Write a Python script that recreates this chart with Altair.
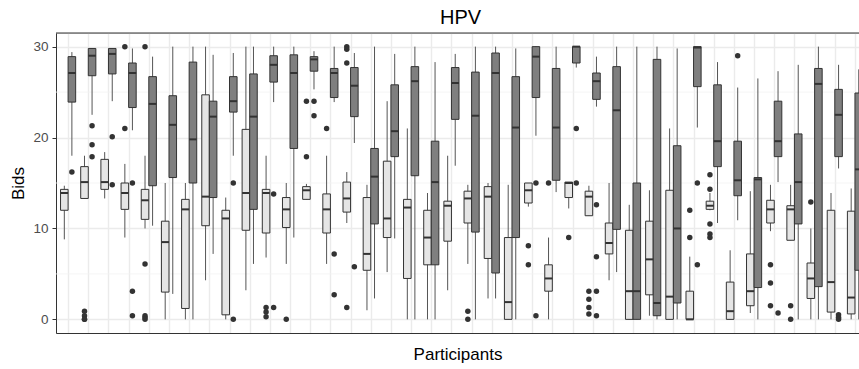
import altair as alt
import pandas as pd

# Participants on the x axis; two bid rounds per participant, drawn side by side
participants = list(range(1, 41))
groups = ["Round 1", "Round 2"]

# Round 1 (light boxes): whisker ends, quartiles and medians
r1_lower = [8.8, 13.3, 13.3, 9.0, 10.0, 0, 0, 4.3, 0, 3.2,
            6.8, 6.1, 13.2, 6.1, 10.6, 1.0, 5.2, 0, 0, 3.2,
            6.1, 2.3, 0, 12.4, 0, 12.2, 11.4, 4.3, 0, 0.4,
            0, 0, 12.0, 0, 0.7, 9.7, 8.7, 0, 0, 0]
r1_q1 = [12.0, 13.3, 14.3, 12.1, 11.0, 3.0, 1.2, 10.3, 0.5, 9.8,
         9.5, 10.1, 13.2, 9.5, 11.8, 5.4, 9.0, 4.5, 6.0, 8.6,
         10.6, 6.7, 0, 12.8, 3.1, 13.4, 11.4, 7.2, 0, 2.7,
         0, 0, 12.1, 0, 1.5, 10.6, 8.7, 2.3, 0.8, 0.6]
r1_median = [13.9, 15.1, 15.1, 13.9, 13.1, 8.5, 12.1, 13.5, 11.1, 13.9,
             13.9, 12.1, 14.2, 12.1, 13.3, 7.2, 11.1, 12.3, 9.0, 12.5,
             13.3, 13.5, 1.9, 14.2, 4.5, 15.0, 13.5, 8.4, 3.1, 6.6,
             2.5, 0, 12.5, 0.9, 3.1, 12.1, 12.1, 4.5, 4.1, 2.4]
r1_q3 = [14.3, 16.8, 17.6, 15.0, 14.3, 10.8, 13.2, 24.7, 12.0, 20.9,
         14.3, 13.4, 14.6, 13.8, 15.1, 13.4, 17.4, 13.2, 12.0, 13.0,
         14.1, 14.6, 9.0, 15.0, 6.0, 15.1, 14.1, 10.6, 9.8, 10.8,
         14.2, 3.1, 13.0, 4.1, 7.2, 13.1, 12.5, 6.2, 12.0, 11.9]
r1_upper = [14.7, 18.0, 18.4, 17.1, 18.0, 15.0, 15.0, 30.0, 13.4, 30.0,
            18.0, 15.0, 14.9, 18.0, 16.2, 14.8, 24.0, 21.0, 13.9, 18.0,
            14.8, 15.0, 14.8, 15.0, 9.0, 15.1, 14.7, 15.0, 12.6, 14.2,
            21.0, 6.9, 13.9, 7.6, 14.1, 14.8, 14.8, 10.0, 13.9, 14.4]
r1_outliers = [[], [0.9, 0.4, 0, 0], [], [30.0, 21.0], [30.0, 6.1, 0.4, 0.2, 0],
               [], [], [], [], [],
               [1.3, 0.8, 0.3], [0], [24.0, 17.9], [21.0], [30.0, 29.7, 28.2, 1.3],
               [], [], [], [], [],
               [0.9, 0], [], [], [8.1, 6.0], [15.0],
               [9.0], [3.1, 2.2, 1.3, 0.6], [], [], [],
               [], [12.0, 9.0], [15.9, 14.3, 10.5, 9.4, 9.0], [], [],
               [6.0, 4.0, 1.5], [1.5, 0], [12.9], [], []]

# Round 2 (dark boxes)
r2_lower = [18.0, 22.5, 24.0, 20.8, 10.3, 2.8, 0, 7.2, 18.0, 6.1,
            23.9, 9.0, 25.3, 23.9, 19.4, 2.3, 8.9, 0, 0, 16.9,
            0, 2.3, 0, 20.2, 14.0, 27.7, 23.4, 5.2, 0, 0,
            0, 21.1, 10.6, 10.9, 0, 15.1, 0, 0, 16.6, 0]
r2_q1 = [23.9, 26.8, 27.0, 23.3, 14.7, 15.6, 15.0, 13.4, 22.8, 12.1,
         26.1, 18.8, 27.3, 24.4, 22.3, 10.5, 17.9, 15.8, 6.0, 22.0,
         9.6, 5.1, 9.0, 24.4, 15.3, 28.2, 24.2, 9.9, 0, 0.4,
         1.8, 25.6, 16.8, 13.6, 3.5, 17.9, 10.5, 3.6, 17.9, 5.4]
r2_median = [27.1, 29.0, 29.2, 27.1, 23.7, 21.4, 19.8, 22.3, 24.0, 22.3,
             28.0, 27.1, 28.6, 27.1, 25.7, 15.7, 20.7, 26.2, 15.1, 26.0,
             22.4, 27.1, 21.1, 28.9, 21.1, 30.0, 26.2, 23.0, 3.1, 1.8,
             10.0, 29.9, 19.6, 15.3, 15.4, 19.6, 15.1, 25.9, 22.5, 16.5]
r2_q3 = [28.9, 29.8, 29.8, 28.2, 26.7, 24.6, 28.3, 24.0, 26.7, 27.0,
         29.0, 29.1, 28.9, 27.6, 27.7, 18.8, 25.8, 27.8, 19.6, 27.7,
         27.2, 29.3, 26.7, 30.0, 27.6, 30.0, 27.1, 27.8, 15.0, 28.6,
         19.1, 30.0, 25.8, 19.6, 15.6, 24.0, 20.4, 27.6, 25.3, 24.9]
r2_upper = [29.4, 29.8, 29.8, 29.8, 28.9, 30.0, 30.0, 29.1, 29.3, 30.0,
            30.0, 30.0, 29.5, 30.0, 29.3, 30.0, 29.2, 30.0, 28.3, 29.2,
            30.0, 30.0, 29.8, 30.0, 30.0, 30.0, 28.9, 30.0, 30.0, 30.0,
            29.8, 30.0, 28.3, 25.5, 26.5, 27.3, 28.0, 30.0, 28.0, 27.5]
r2_outliers = [[16.2], [21.3, 19.2, 17.9], [20.1, 14.8], [15.0, 3.1, 0.4], [],
               [], [], [], [15.0, 0], [],
               [13.8, 1.3], [], [24.0, 22.4], [7.2, 2.7], [5.8],
               [], [], [], [], [],
               [], [], [], [15.0, 0.4], [],
               [21.0, 15.0], [12.6, 6.9, 3.1, 0.4], [], [], [],
               [], [15.0, 6.0], [], [29.0], [],
               [0.7], [], [], [0.5, 0.2, 0], []]

# Minor horizontal breaks between the labelled ones
minor_breaks = [5, 15, 25]
major_breaks = [0, 10, 20, 30]

# Dodged layout: each round takes half of a 0.75-wide slot around the participant
half_slot = 0.375
offsets = {"Round 1": -half_slot / 2, "Round 2": half_slot / 2}

series = {
    "Round 1": (r1_lower, r1_q1, r1_median, r1_q3, r1_upper, r1_outliers),
    "Round 2": (r2_lower, r2_q1, r2_median, r2_q3, r2_upper, r2_outliers),
}

box_rows, out_rows = [], []
for g in groups:
    lo, q1, med, q3, hi, outs = series[g]
    for i, p in enumerate(participants):
        c = p + offsets[g]
        box_rows.append({"participant": p, "group": g, "center": c,
                         "left": c - half_slot / 2, "right": c + half_slot / 2,
                         "lower": lo[i], "q1": q1[i], "median": med[i],
                         "q3": q3[i], "upper": hi[i]})
        for v in outs[i]:
            out_rows.append({"participant": p, "group": g, "center": c, "value": v})

boxes = pd.DataFrame(box_rows)
outliers = pd.DataFrame(out_rows)

FONT = "Liberation Sans"
W, H = 803, 300

xs = alt.Scale(domain=[0.4, 40.2], nice=False, zero=False)
ys = alt.Scale(domain=[-1.5, 31.5], nice=False, zero=False)

x_axis = alt.Axis(values=participants, labels=False, ticks=False, grid=True,
                  gridColor="#EBEBEB", gridWidth=1.4, domain=True,
                  domainColor="#333333", domainWidth=1,
                  titleFont=FONT, titleFontSize=17, titleFontWeight="normal",
                  titleColor="#000000", titlePadding=13)
y_axis = alt.Axis(values=major_breaks, grid=True, gridColor="#EBEBEB", gridWidth=1.4,
                  tickSize=4, tickColor="#333333", tickWidth=1,
                  labelFont=FONT, labelFontSize=13.5, labelColor="#4D4D4D",
                  labelPadding=4, domain=True, domainColor="#333333", domainWidth=1,
                  titleFont=FONT, titleFontSize=17, titleFontWeight="normal",
                  titleColor="#000000", titlePadding=5)

def X(field):
    return alt.X(field, type="quantitative", scale=xs, axis=x_axis, title="Participants")

def Y(field):
    return alt.Y(field, type="quantitative", scale=ys, axis=y_axis, title="Bids")

minor = alt.Chart(pd.DataFrame({"y": minor_breaks})).mark_rule(
    color="#F2F2F2", strokeWidth=0.8
).encode(y=Y("y"))

whiskers = alt.Chart(boxes).mark_rule(color="#555555", strokeWidth=1, clip=True).encode(
    x=X("center"), y=Y("lower"), y2="upper"
)

box = alt.Chart(boxes).mark_rect(stroke="#333333", strokeWidth=1, clip=True).encode(
    x=X("left"), x2="right", y=Y("q1"), y2="q3",
    fill=alt.Fill("group:N", scale=alt.Scale(domain=groups, range=["#E5E5E5", "#7F7F7F"]),
                  legend=None),
)

medians = alt.Chart(boxes).mark_rule(color="#333333", strokeWidth=2, clip=True).encode(
    x=X("left"), x2="right", y=Y("median")
)

points = alt.Chart(outliers).mark_circle(size=30, color="#333333", opacity=1, clip=True).encode(
    x=X("center"), y=Y("value")
)

top_border = alt.Chart(pd.DataFrame({"a": [0]})).mark_rule(color="#333333", strokeWidth=1).encode(
    x=alt.value(0), x2=alt.value(W), y=alt.value(0)
)

chart = alt.layer(minor, whiskers, box, medians, points, top_border).properties(
    width=W, height=H,
    title=alt.TitleParams("HPV", font=FONT, fontSize=20, fontWeight="normal",
                          color="#000000", anchor="middle", offset=5, dx=3),
    padding={"left": 56, "top": 33, "right": 0, "bottom": 36},
    autosize=alt.AutoSizeParams(type="none"),
).configure_view(stroke=None).configure(background="white")

chart.save("out.html", embed_options={"renderer": "svg", "actions": False})
